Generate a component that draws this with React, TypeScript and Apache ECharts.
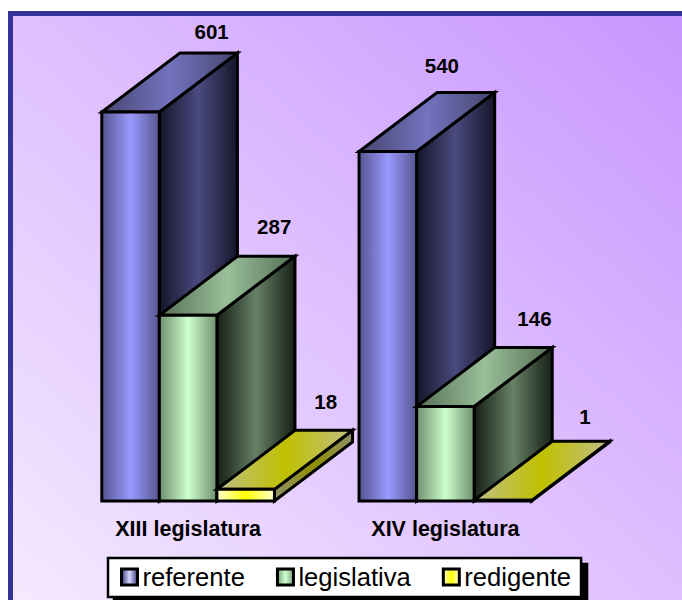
import React, { useEffect, useRef } from "react";
import * as echarts from "echarts";

const categories = ["XIII legislatura", "XIV legislatura"];
const seriesNames = ["referente", "legislativa", "redigente"];
const referente = [601, 540];
const legislativa = [287, 146];
const redigente = [18, 1];
const allValues = [referente, legislativa, redigente];

// value label nudges [dx, dy] from the centre of the bar's back top edge, per series then category
const labelNudges = [
  [[3, -22], [-24, -27]],
  [[8, -30], [11, -29]],
  [[2, -29], [4, -25]],
];

const hGrad = (edge: string, mid: string) => ({
  type: "linear", x: 0, y: 0, x2: 1, y2: 0,
  colorStops: [
    { offset: 0, color: edge },
    { offset: 0.5, color: mid },
    { offset: 1, color: edge },
  ],
});

const faces = [
  {
    front: hGrad("#55558f", "#9999ff"),
    top: hGrad("#45456f", "#7373bf"),
    side: hGrad("#15152a", "#4a4a80"),
    legend: hGrad("#3a3a80", "#d8d8ff"),
  },
  {
    front: hGrad("#6f8f6f", "#ccffcc"),
    top: hGrad("#566f56", "#99bf99"),
    side: hGrad("#152015", "#668066"),
    legend: hGrad("#7fa07f", "#ccffcc"),
  },
  {
    front: hGrad("#ffffd0", "#ffff00"),
    top: hGrad("#bfbf85", "#c0c000"),
    side: hGrad("#8f8f66", "#8f8f00"),
    legend: hGrad("#ffffd0", "#ffff00"),
  },
];

const BAR_FRAC = 57.5 / 257;
const DEPTH_X = 78 / 257;
const DEPTH_Y = 59 / 257;
const STROKE = { stroke: "#000", lineWidth: 3, lineJoin: "miter" };

function makeRender(s: number) {
  return (_p: any, api: any) => {
    const cat = api.value(0);
    const val = api.value(1);
    const [cx, yTop] = api.coord([cat, val]);
    const [, yBase] = api.coord([cat, 0]);
    const band = api.size([1, 0])[0];
    const w = band * BAR_FRAC;
    const dx = band * DEPTH_X;
    const dy = band * DEPTH_Y;
    const x0 = cx - (3 * w) / 2 + s * w;
    const x1 = x0 + w;
    const f = faces[s];
    const nudge = labelNudges[s][cat];
    return {
      type: "group",
      children: [
        {
          type: "polygon",
          shape: { points: [[x1, yTop], [x1 + dx, yTop - dy], [x1 + dx, yBase - dy], [x1, yBase]] },
          style: { fill: f.side, ...STROKE },
        },
        {
          type: "polygon",
          shape: { points: [[x0, yTop], [x1, yTop], [x1 + dx, yTop - dy], [x0 + dx, yTop - dy]] },
          style: { fill: f.top, ...STROKE },
        },
        {
          type: "polygon",
          shape: { points: [[x0, yTop], [x1, yTop], [x1, yBase], [x0, yBase]] },
          style: { fill: f.front, ...STROKE },
        },
        {
          type: "text",
          style: {
            text: String(val),
            x: x0 + w / 2 + dx + nudge[0],
            y: yTop - dy + nudge[1],
            align: "center",
            verticalAlign: "middle",
            fill: "#000",
            font: 'bold 20.5px "Liberation Sans", Arial, sans-serif',
          },
        },
      ],
    };
  };
}

export default function App() {
  const ref = useRef<HTMLDivElement>(null);
  useEffect(() => {
    const chart = echarts.init(ref.current!, undefined, { renderer: "svg" });
    chart.setOption({
      animation: false,
      graphic: [
        {
          type: "rect",
          z: -10,
          silent: true,
          shape: { x: 10.5, y: 13.5, width: 700, height: 620 },
          style: {
            stroke: "#333399",
            lineWidth: 5,
            fill: {
              type: "linear", x: 0, y: 1, x2: 1, y2: 0,
              colorStops: [
                { offset: 0, color: "#f6ecff" },
                { offset: 1, color: "#c794ff" },
              ],
            },
          },
        },
      ],
      grid: { left: 59.5, width: 514.5, top: 48, height: 453 },
      xAxis: {
        type: "category",
        data: categories,
        axisLine: { show: false },
        axisTick: { show: false },
        axisLabel: {
          margin: 17,
          color: "#000",
          fontWeight: "bold",
          fontSize: 21.5,
          fontFamily: '"Liberation Sans", Arial, sans-serif',
        },
      },
      yAxis: { type: "value", min: 0, max: 700, show: false },
      legend: {
        left: 108,
        top: 558,
        orient: "horizontal",
        padding: [6, 10, 7, 12],
        itemGap: 31,
        itemWidth: 16,
        itemHeight: 16,
        backgroundColor: "#fff",
        borderColor: "#000",
        borderWidth: 2.5,
        borderRadius: 0,
        shadowColor: "#000",
        shadowBlur: 0,
        shadowOffsetX: 6,
        shadowOffsetY: 6,
        selectedMode: false,
        textStyle: {
          color: "#000",
          fontSize: 25.6,
          fontFamily: '"Liberation Sans", Arial, sans-serif',
        },
        data: seriesNames.map((name, i) => ({
          name,
          icon: "rect",
          itemStyle: { color: faces[i].legend, borderColor: "#000", borderWidth: 3 },
        })),
      },
      series: seriesNames.map((name, s) => ({
        type: "custom",
        name,
        coordinateSystem: "cartesian2d",
        renderItem: makeRender(s),
        clip: false,
        encode: { x: 0, y: 1 },
        itemStyle: { color: "#9999ff" },
        data: allValues[s].map((v, i) => [i, v]),
      })),
    });
    return () => chart.dispose();
  }, []);
  return <div ref={ref} style={{ position: "absolute", left: 0, top: 0, width: 682, height: 600 }} />;
}
